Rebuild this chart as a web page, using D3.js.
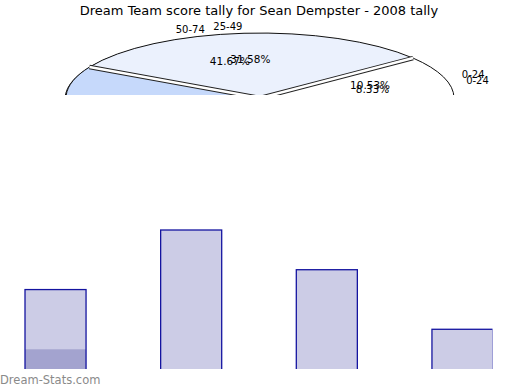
<!DOCTYPE html>
<html>
<head>
<meta charset="utf-8">
<script src="https://cdn.jsdelivr.net/npm/d3@7"></script>
<style>
  body { margin: 0; background: #fff; }
  text { font-family: "DejaVu Sans", sans-serif; }
</style>
</head>
<body>
<svg id="chart" width="520" height="390"></svg>
<script>
// pie data (two tallies drawn on top of each other)
const pieCats1 = ["0-24", "25-49", "50-74"];
const pieVals1 = [2, 6, 11];
const pieCols1 = ["#ffffff", "#ebf1fd", "#c6d9fb"];
const pieCats2 = ["0-24", "50-74", "75-99"];
const pieVals2 = [1, 5, 6];
const pieCols2 = ["#ffffff", "#ebf1fd", "#c6d9fb"];

// bar data
const barCats = ["a", "b", "c", "d"];
const barLow = [1, 0, 0, 0];
const barHigh = [3, 7, 5, 2];

const title = "Dream Team score tally for Sean Dempster - 2008 tally";

const svg = d3.select("#chart");
const defs = svg.append("defs");
defs.append("clipPath").attr("id", "pieClip")
  .append("rect").attr("x", 0).attr("y", 0).attr("width", 520).attr("height", 95);
defs.append("clipPath").attr("id", "barClip")
  .append("rect").attr("x", 0).attr("y", 0).attr("width", 492.5).attr("height", 369);

svg.append("text")
  .attr("x", 259).attr("y", 15)
  .attr("text-anchor", "middle")
  .style("font-size", "13px")
  .text(title);

// pie, matplotlib style: counter-clockwise from east
const rx = 194, ry = 65;
const pie = d3.pie().sort(null)
  .startAngle(Math.PI / 2)
  .endAngle(Math.PI / 2 - 2 * Math.PI);
const arc = d3.arc().innerRadius(0).outerRadius(1);
const mid = d => (d.startAngle + d.endAngle) / 2;

const wedgeLayer = svg.append("g").attr("clip-path", "url(#pieClip)");
const textLayer = svg.append("g").attr("clip-path", "url(#pieClip)");

function drawWedges(cats, vals, cols, cx, cy) {
  const arcs = pie(vals);
  const g = wedgeLayer.append("g");
  g.append("g")
    .attr("transform", `translate(${cx},${cy}) scale(${rx},${ry})`)
    .selectAll("path")
    .data(arcs)
    .enter().append("path")
    .attr("d", arc)
    .attr("fill", (d, i) => cols[i])
    .attr("stroke", "#111")
    .attr("stroke-width", 1)
    .attr("vector-effect", "non-scaling-stroke");
  // separator edges drawn as double lines
  const edge = d => {
    const a = d.startAngle;
    return `M${cx},${cy}L${cx + rx * Math.sin(a)},${cy - ry * Math.cos(a)}`;
  };
  g.selectAll("path.e1").data(arcs).enter().append("path")
    .attr("class", "e1")
    .attr("d", edge).attr("stroke", "#222").attr("stroke-width", 4.5).attr("fill", "none");
  g.selectAll("path.e2").data(arcs).enter().append("path")
    .attr("class", "e2")
    .attr("d", edge).attr("stroke", "#fff").attr("stroke-width", 2.5).attr("fill", "none");
}

function drawLabels(cats, vals, cx, cy) {
  const total = d3.sum(vals);
  const arcs = pie(vals);
  const g = textLayer.append("g");
  g.selectAll("text.lab")
    .data(arcs)
    .enter().append("text")
    .attr("class", "lab")
    .attr("x", d => cx + 1.1 * rx * Math.sin(mid(d)))
    .attr("y", d => cy - 1.1 * ry * Math.cos(mid(d)))
    .attr("dy", "0.35em")
    .attr("text-anchor", d => Math.sin(mid(d)) > 0 ? "start" : "end")
    .style("font-size", "10px")
    .text((d, i) => cats[i]);
  g.selectAll("text.pct")
    .data(arcs)
    .enter().append("text")
    .attr("class", "pct")
    .attr("x", d => cx + 0.6 * rx * Math.sin(mid(d)))
    .attr("y", d => cy - 0.6 * ry * Math.cos(mid(d)))
    .attr("dy", "0.35em")
    .attr("text-anchor", "middle")
    .style("font-size", "10.5px")
    .text(d => (100 * d.value / total).toFixed(2) + "%");
}

drawWedges(pieCats2, pieVals2, pieCols2, 259, 99);
drawWedges(pieCats1, pieVals1, pieCols1, 260, 98);
drawLabels(pieCats2, pieVals2, 260, 99);
drawLabels(pieCats1, pieVals1, 260, 98);

// bars
const x = d3.scaleBand().domain(barCats).range([-12.3, 530.3])
  .paddingInner(0.55).paddingOuter(0.275);
const y = d3.scaleLinear().domain([0, 7]).range([369, 230]);

const bars = svg.append("g").attr("clip-path", "url(#barClip)");
const stacked = barCats.map((c, i) => ({ c, low: barLow[i], high: barHigh[i] }));

bars.selectAll("rect.high")
  .data(stacked)
  .enter().append("rect")
  .attr("class", "high")
  .attr("x", d => x(d.c))
  .attr("width", x.bandwidth())
  .attr("y", d => y(d.low + d.high))
  .attr("height", d => y(d.low) - y(d.low + d.high))
  .attr("fill", "#cccce6");

bars.selectAll("rect.low")
  .data(stacked)
  .enter().append("rect")
  .attr("class", "low")
  .attr("x", d => x(d.c))
  .attr("width", x.bandwidth())
  .attr("y", d => y(d.low))
  .attr("height", d => y(0) - y(d.low))
  .attr("fill", "#a3a3cf");

bars.selectAll("rect.outline")
  .data(stacked)
  .enter().append("rect")
  .attr("class", "outline")
  .attr("x", d => x(d.c))
  .attr("width", x.bandwidth())
  .attr("y", d => y(d.low + d.high))
  .attr("height", d => y(0) - y(d.low + d.high) + 5)
  .attr("fill", "none")
  .attr("stroke", "#1414a0")
  .attr("stroke-width", 1.3);

svg.append("text")
  .attr("x", 0).attr("y", 384)
  .style("font-size", "11.5px")
  .attr("fill", "#8a8a8a")
  .text("Dream-Stats.com");
</script>
</body>
</html>
